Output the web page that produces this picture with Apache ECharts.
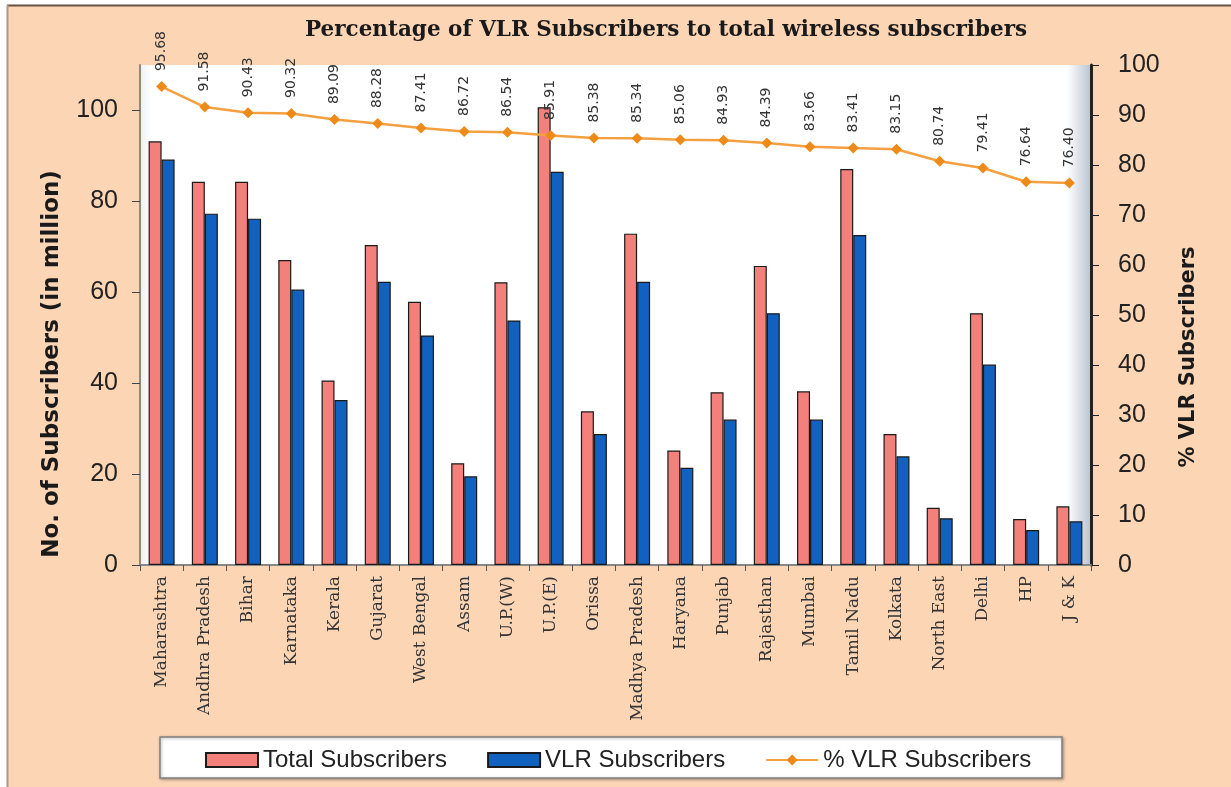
<!DOCTYPE html>
<html><head><meta charset="utf-8">
<script src="https://cdn.jsdelivr.net/npm/echarts@6/dist/echarts.min.js"></script>
<style>html,body{margin:0;padding:0;background:#fff}#c{width:1231px;height:787px}</style>
</head><body><div id="c"></div>
<script>
const titleText = 'Percentage of VLR Subscribers to total wireless subscribers';
const categories = ['Maharashtra','Andhra Pradesh','Bihar','Karnataka','Kerala','Gujarat','West Bengal','Assam','U.P.(W)','U.P.(E)','Orissa','Madhya Pradesh','Haryana','Punjab','Rajasthan','Mumbai','Tamil Nadu','Kolkata','North East','Delhi','HP','J & K'];
const totalSubscribers = [93.2,84.3,84.3,67.1,40.6,70.4,57.9,22.4,62.2,100.7,33.8,72.9,25.2,38.0,65.8,38.2,87.1,28.8,12.6,55.4,10.1,12.9];
const vlrSubscribers = [89.2,77.3,76.2,60.6,36.3,62.3,50.5,19.5,53.8,86.5,28.8,62.3,21.4,32.0,55.4,32.0,72.6,23.9,10.3,44.1,7.7,9.6];
const vlrPercent = [95.68,91.58,90.43,90.32,89.09,88.28,87.41,86.72,86.54,85.91,85.38,85.34,85.06,84.93,84.39,83.66,83.41,83.15,80.74,79.41,76.64,76.40];
const seriesNames = ['Total Subscribers','VLR Subscribers','% VLR Subscribers'];
const leftAxisTitle = 'No. of Subscribers (in million)';
const rightAxisTitle = '% VLR Subscribers';

const chart = echarts.init(document.getElementById('c'), null, {renderer:'canvas'});
const sans = "'Liberation Sans', Arial, sans-serif";
chart.setOption({
  backgroundColor: '#FCD5B4',
  animation: false,
  title: {
    text: titleText, left: 300, top: 14,
    textStyle: {fontFamily: "'DejaVu Serif', serif", fontWeight: 'bold', fontSize: 21.5, color: '#1a1a1a'}
  },
  grid: {
    left: 140, right: 140, top: 65, bottom: 222, show: true, borderWidth: 0,
    backgroundColor: {type:'linear', x:0, y:0, x2:1, y2:0, colorStops:[
      {offset:0, color:'#eef0f2'}, {offset:0.012, color:'#ffffff'}, {offset:0.975, color:'#ffffff'}, {offset:1, color:'#b9c3d0'}]}
  },
  legend: {
    left: 200, top: 743, itemWidth: 52, itemHeight: 14, itemGap: 40,
    data: [
      {name: seriesNames[0], icon: 'rect'},
      {name: seriesNames[1], icon: 'rect'},
      {name: seriesNames[2]}
    ],
    textStyle: {fontFamily: sans, fontSize: 24, color: '#222'}
  },
  xAxis: {
    type: 'category', data: categories,
    axisLine: {lineStyle: {color: '#888', width: 2}},
    axisTick: {show: true, length: 6, lineStyle: {color: '#555'}},
    axisLabel: {interval: 0, rotate: 90, margin: 11, fontFamily: "'DejaVu Serif', serif", fontSize: 17, color: '#333'}
  },
  yAxis: [
    {type: 'value', min: 0, max: 110, interval: 20, position: 'left',
     splitLine: {show: false},
     axisLine: {show: true, lineStyle: {color: '#8a8a7e', width: 2}},
     axisTick: {show: true, length: 8, lineStyle: {color: '#444'}},
     axisLabel: {showMaxLabel: false, margin: 22, fontFamily: sans, fontSize: 25, color: '#222'}},
    {type: 'value', min: 0, max: 100, interval: 10, position: 'right',
     splitLine: {show: false},
     axisLine: {show: true, lineStyle: {color: '#222', width: 3}},
     axisTick: {show: true, length: 8, lineStyle: {color: '#222'}},
     axisLabel: {margin: 27, fontFamily: sans, fontSize: 25, color: '#222'}}
  ],
  series: [
    {name: seriesNames[0], type: 'bar', data: totalSubscribers, barWidth: 13, barGap: '0%',
     itemStyle: {color: '#F4807C', borderColor: '#1a1a1a', borderWidth: 1.2}},
    {name: seriesNames[1], type: 'bar', data: vlrSubscribers, barWidth: 13,
     itemStyle: {color: '#1161C1', borderColor: '#1a1a1a', borderWidth: 1.2}},
    {name: seriesNames[2], type: 'line', yAxisIndex: 1, data: vlrPercent,
     symbol: 'diamond', symbolSize: 11,
     lineStyle: {color: '#F4A040', width: 2.5},
     itemStyle: {color: '#EE8A18'},
     label: {show: true, position: 'top', rotate: 90, align: 'left', verticalAlign: 'middle', distance: 10,
       fontFamily: "'DejaVu Sans', sans-serif", fontSize: 14, color: '#333',
       formatter: p => p.value.toFixed(2)}}
  ],
  graphic: [
    {type:'rect', shape:{x:0,y:0,width:1231,height:5}, style:{fill:'#fff'}, silent:true},
    {type:'rect', shape:{x:0,y:0,width:7,height:787}, style:{fill:'#fff'}, silent:true},
    {type:'line', shape:{x1:7,y1:5.5,x2:1231,y2:5.5}, style:{stroke:'#6b5040', lineWidth:2}, silent:true},
    {type:'line', shape:{x1:7.5,y1:5,x2:7.5,y2:787}, style:{stroke:'#a8988a', lineWidth:2}, silent:true},
    {type:'rect', shape:{x:160,y:737,width:902,height:41}, style:{fill:'#fff', stroke:'#808080', lineWidth:1.5, shadowBlur:3, shadowColor:'rgba(0,0,0,0.3)', shadowOffsetX:1, shadowOffsetY:1}, silent:true},
    {type:'text', x:52, y:364, rotation:Math.PI/2, style:{text:leftAxisTitle, font:"bold 23px 'DejaVu Sans', sans-serif", fill:'#1a1a1a', textAlign:'center', textVerticalAlign:'middle'}, silent:true},
    {type:'text', x:1189, y:357, rotation:Math.PI/2, style:{text:rightAxisTitle, font:"bold 21px 'DejaVu Sans', sans-serif", fill:'#1a1a1a', textAlign:'center', textVerticalAlign:'middle'}, silent:true}
  ]
});
</script></body></html>
